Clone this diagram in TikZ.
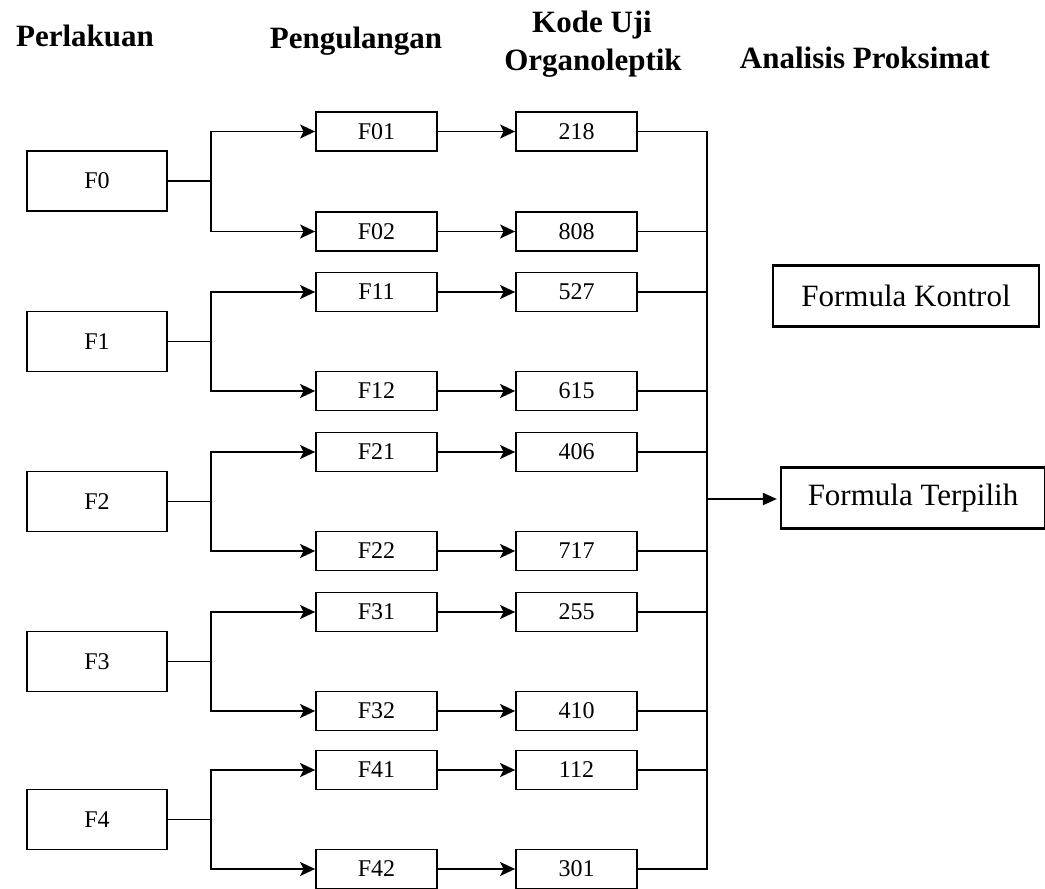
\documentclass[tikz,border=0pt]{standalone}
\usepackage{fontspec}
\setmainfont{Liberation Serif}
\usetikzlibrary{arrows.meta}
\begin{document}
\begin{tikzpicture}[x=1pt,y=-1pt,
  hdr/.style={font=\fontsize{31}{34}\selectfont\bfseries, anchor=base, inner sep=0pt},
  tbox/.style={draw, line width=1.8pt, minimum width=140pt, minimum height=60pt, inner sep=0pt, font=\fontsize{24}{26}\selectfont},
  rbox/.style={draw, line width=1.8pt, minimum width=121pt, minimum height=39pt, inner sep=0pt, font=\fontsize{24}{26}\selectfont},
  fbox/.style={draw, line width=2.2pt, minimum height=61pt, inner sep=0pt, font=\fontsize{31}{34}\selectfont},
  conn/.style={line width=1.8pt},
  arr/.style={line width=1.8pt, -{Stealth[length=15pt,width=14pt,inset=3.5pt]}},
  arrb/.style={line width=1.8pt, -{Triangle[length=14pt,width=12pt]}},
]
\useasboundingbox (0,0) rectangle (1045,889);

% headers
\node[hdr] (h1) at (85,46) {Perlakuan};
\node[hdr] (h2) at (356,48) {Pengulangan};
\node[hdr] (h3) at (592,32) {Kode Uji};
\node[hdr] (h4) at (593,70) {Organoleptik};
\node[hdr] (h5) at (865,68) {Analisis Proksimat};

\foreach \i/\ty/\ya/\yb/\ca/\cb in {0/181/131.5/231.5/218/808, 1/341.5/292/391/527/615, 2/501.5/452/551/406/717, 3/661.5/612/711/255/410, 4/819.5/770/869/112/301} {
  \node[tbox] (T\i) at (97,\ty) {F\i};
  \node[rbox] (R\i1) at (376.5,\ya) {F\i1};
  \node[rbox] (R\i2) at (376.5,\yb) {F\i2};
  \node[rbox] (C\i1) at (576.5,\ya) {\ca};
  \node[rbox] (C\i2) at (576.5,\yb) {\cb};
  \coordinate (J\i) at (211,\ty);
  \draw[conn] (T\i.east) -- (J\i);
  \draw[arr] (J\i) |- (R\i1.west);
  \draw[arr] (J\i) |- (R\i2.west);
  \draw[arr] (R\i1.east) -- (C\i1.west);
  \draw[arr] (R\i2.east) -- (C\i2.west);
}

% bus
\coordinate (Btop) at (707,131.5);
\coordinate (Bbot) at (707,869);
\coordinate (Bm) at (707,499);
\draw[conn] (C01.east) -| (Bbot) -- (C42.east);
\foreach \n in {C02,C11,C12,C21,C22,C31,C32,C41} {
  \draw[conn] (\n.east) -- (\n.east -| Btop);
}

% formula boxes
\node[fbox, minimum width=266pt] (FK) at (906,296) {Formula Kontrol};
\node[fbox, minimum width=264pt] (FT) at (913,498) {Formula Terpilih};
\draw[arrb, shorten >=3pt] (Bm) -- (Bm -| FT.west);
\end{tikzpicture}
\end{document}
